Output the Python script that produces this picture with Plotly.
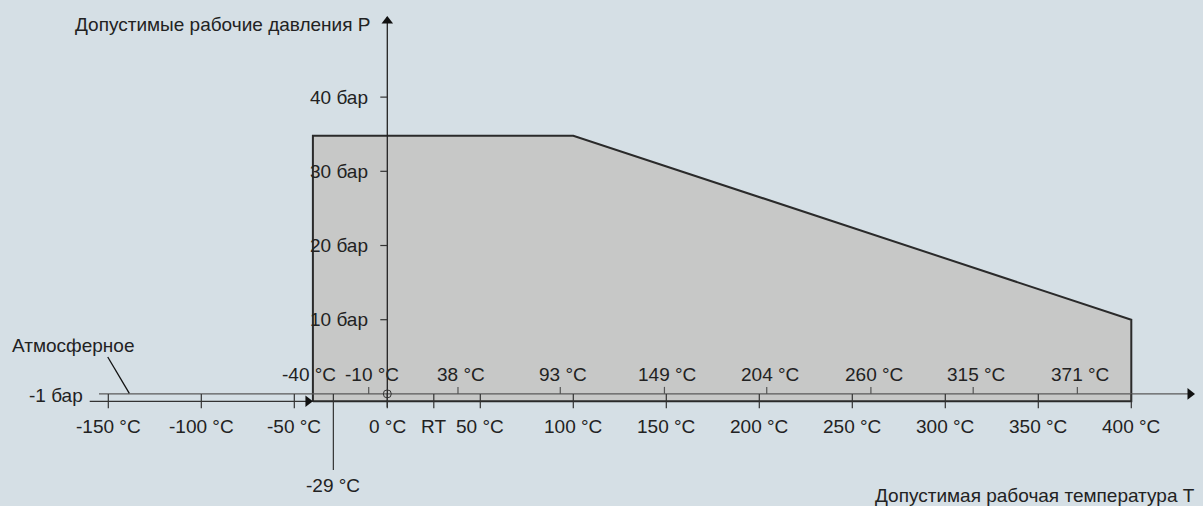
import plotly.graph_objects as go

# Envelope of permitted operating conditions (temperature in degC, pressure in bar)
env_temp = [-40, -40, 100, 400, 400, -40]
env_pres = [-1, 34.8, 34.8, 10, -1, -1]

# Tick values and labels
bottom_ticks = [-150, -100, -50, 0, 50, 100, 150, 200, 250, 300, 350, 400]
bottom_labels = [f"{t} °C" for t in bottom_ticks]
rt_temp = 25
top_ticks = [-10, 38, 93, 149, 204, 260, 315, 371]
top_labels = [f"{t} °C" for t in top_ticks]
pres_ticks = [10, 20, 30, 40]
pres_labels = [f"{p} бар" for p in pres_ticks]
min_temp = -29
low_temp = -40
atm_pres = -1

# pixel scale: 1.86 px per degC, 7.42 px per bar
PX_T = 1.86
PX_P = 7.42


def dT(px):
    return px / PX_T


def dP(px):
    return px / PX_P


ink = "#222222"
bg = "#d5dfe5"
font = dict(family="Liberation Sans, Arial, sans-serif", size=19, color=ink)

fig = go.Figure()

# filled envelope
fig.add_trace(
    go.Scatter(
        x=env_temp,
        y=env_pres,
        mode="lines",
        fill="toself",
        fillcolor="#c7c8c7",
        line=dict(color="#2a2a2a", width=2),
        hoverinfo="skip",
    )
)

# upper temperature axis (P = 0)
fig.add_trace(
    go.Scatter(
        x=[-155, 438 - dT(12)],
        y=[0, 0],
        mode="lines",
        line=dict(color="#5a5a5a", width=1.2),
        hoverinfo="skip",
    )
)
# lower line (-1 bar) up to -40 degC
fig.add_trace(
    go.Scatter(
        x=[-160, low_temp],
        y=[atm_pres, atm_pres],
        mode="lines",
        line=dict(color="#333333", width=1.2),
        hoverinfo="skip",
    )
)
# pressure axis
fig.add_trace(
    go.Scatter(
        x=[0, 0],
        y=[atm_pres - dP(6), 50.8],
        mode="lines",
        line=dict(color=ink, width=1.3),
        hoverinfo="skip",
    )
)

# arrowheads
fig.add_trace(
    go.Scatter(
        x=[438 - dT(12), low_temp - dT(5)],
        y=[0, atm_pres],
        mode="markers",
        marker=dict(symbol="triangle-right", size=10, color="#111111"),
        hoverinfo="skip",
    )
)
fig.add_trace(
    go.Scatter(
        x=[0],
        y=[50.8 - dP(4)],
        mode="markers",
        marker=dict(symbol="triangle-up", size=10, color="#111111"),
        hoverinfo="skip",
    )
)

# bottom ticks (span both lines)
tx, ty = [], []
for t in bottom_ticks + [rt_temp]:
    tx += [t, t, None]
    ty += [0, atm_pres - dP(7), None]
fig.add_trace(
    go.Scatter(x=tx, y=ty, mode="lines", line=dict(color="#333333", width=1.2), hoverinfo="skip")
)
# top ticks
tx, ty = [], []
for t in top_ticks:
    tx += [t, t, None]
    ty += [0, dP(7), None]
fig.add_trace(
    go.Scatter(x=tx, y=ty, mode="lines", line=dict(color="#555555", width=1.2), hoverinfo="skip")
)
# -29 degC line
fig.add_trace(
    go.Scatter(
        x=[min_temp, min_temp],
        y=[0, -10.25],
        mode="lines",
        line=dict(color="#333333", width=1.2),
        hoverinfo="skip",
    )
)
# pressure ticks
tx, ty = [], []
for p in pres_ticks:
    tx += [-dT(7), 0, None]
    ty += [p, p, None]
fig.add_trace(
    go.Scatter(x=tx, y=ty, mode="lines", line=dict(color="#333333", width=1.2), hoverinfo="skip")
)
# leader line to atmospheric
fig.add_trace(
    go.Scatter(
        x=[-150.3, -138.7],
        y=[4.97, 0.08],
        mode="lines",
        line=dict(color="#111111", width=1.3),
        hoverinfo="skip",
    )
)
# origin marker
fig.add_trace(
    go.Scatter(
        x=[0],
        y=[0],
        mode="markers",
        marker=dict(symbol="circle-open", size=8, color="#333333", line=dict(width=1)),
        hoverinfo="skip",
    )
)

annotations = []
for t, lab in zip(bottom_ticks, bottom_labels):
    annotations.append(dict(x=t, y=-4.42, text=lab, xanchor="center", yanchor="middle"))
annotations.append(dict(x=rt_temp, y=-4.42, text="RT", xanchor="center", yanchor="middle"))
for t, lab in zip(top_ticks, top_labels):
    annotations.append(dict(x=t + dT(3), y=2.68, text=lab, xanchor="center", yanchor="middle"))
annotations.append(dict(x=low_temp - dT(4), y=2.68, text=f"{low_temp} °C", xanchor="center", yanchor="middle"))
annotations.append(dict(x=min_temp, y=-12.28, text=f"{min_temp} °C", xanchor="center", yanchor="middle"))
for p, lab in zip(pres_ticks, pres_labels):
    annotations.append(dict(x=-9.3, y=p, text=lab, xanchor="right", yanchor="middle"))
annotations += [
    dict(x=-8.2, y=49.85, text="Допустимые рабочие давления P", xanchor="right", yanchor="middle"),
    dict(x=-202.9, y=6.46, text="Атмосферное", xanchor="left", yanchor="middle"),
    dict(x=-162.5, y=-0.28, text=f"{atm_pres} бар", xanchor="right", yanchor="middle"),
    dict(x=435.3, y=-13.76, text="Допустимая рабочая температура T", xanchor="right", yanchor="middle"),
]
for a in annotations:
    a.update(xref="x", yref="y", showarrow=False, font=font)

fig.update_layout(
    width=1203,
    height=506,
    margin=dict(l=0, r=0, t=0, b=0),
    paper_bgcolor=bg,
    plot_bgcolor=bg,
    showlegend=False,
    annotations=annotations,
    xaxis=dict(range=[-208.23, 438.55], visible=False, fixedrange=True),
    yaxis=dict(range=[-15.11, 53.09], visible=False, fixedrange=True),
)

fig.write_html(
    "out.html",
    config={"displayModeBar": False},
    post_script="document.body.style.margin='0';document.body.style.background='" + bg + "';",
)
